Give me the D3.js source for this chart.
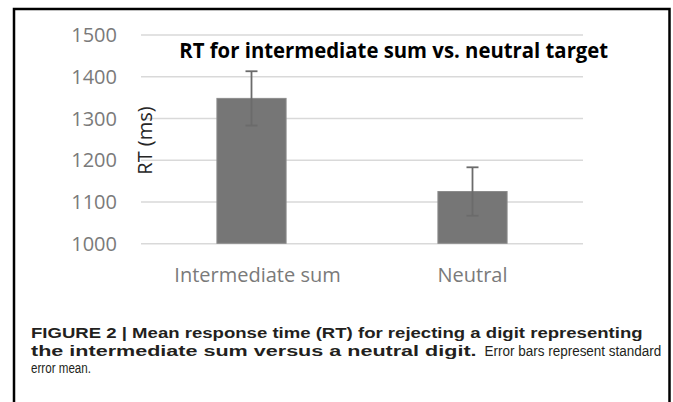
<!DOCTYPE html>
<html>
<head>
<meta charset="utf-8" />
<title>RT for intermediate sum vs. neutral target</title>
<style>
body { margin: 0; background: #fff; }
.tick text { font-family: "Open Sans", sans-serif; font-size: 20px; fill: #7a7a7a; }
.grid line { stroke: #d9d9d9; stroke-width: 1.5; }
.caption { font-family: "Liberation Sans", Arial, sans-serif; font-size: 15.5px; fill: #231f20; }
</style>
</head>
<body>
<div id="chart"></div>
<script src="https://d3js.org/d3.v7.min.js"></script>
<script>
(function(d3) {
	'use strict';

	// values
	var categories = ['Intermediate sum', 'Neutral'];
	var means = [1347, 1124];
	var stdErrors = [65, 58];
	var yTicks = [1000, 1100, 1200, 1300, 1400, 1500];

	var width = 673;
	var height = 402;

	var svg = d3.select('#chart').append('svg')
		.attr('width', width).attr('height', height);

	// outer frame (open at the bottom)
	svg.append('path')
		.attr('d', 'M14,' + height + 'V9H669.5V' + height)
		.attr('fill', 'none').attr('stroke', '#000').attr('stroke-width', 2.5);

	var x = d3.scaleBand().domain(categories).range([141, 583])
		.paddingInner(0.687).paddingOuter(0.3435);
	var y = d3.scaleLinear().domain([1000, 1500]).range([243.3, 34.5]);

	// gridlines + y labels
	var yAxis = svg.append('g').attr('class', 'grid')
		.attr('transform', 'translate(141,0)')
		.call(d3.axisLeft(y).tickValues(yTicks).tickSize(-442).tickPadding(24)
			.tickFormat(d3.format('d')));
	yAxis.select('.domain').remove();
	yAxis.selectAll('text').attr('dy', '0.36em');

	// bars
	svg.selectAll('rect.bar').data(means).enter().append('rect')
		.attr('class', 'bar')
		.attr('x', function(d, i) { return x(categories[i]); })
		.attr('width', x.bandwidth())
		.attr('y', function(d) { return y(d); })
		.attr('height', function(d) { return y(1000) - y(d); })
		.attr('fill', '#767676')
		.attr('stroke', '#8c8c8c').attr('stroke-width', 1);

	// error bars
	var err = svg.selectAll('g.err').data(means).enter().append('g')
		.attr('class', 'err')
		.attr('stroke', '#6b6b6b').attr('stroke-width', 1.8)
		.attr('transform', function(d, i) {
			return 'translate(' + (x(categories[i]) + x.bandwidth() / 2) + ',0)';
		});
	err.append('line')
		.attr('y1', function(d, i) { return y(d + stdErrors[i]); })
		.attr('y2', function(d, i) { return y(d - stdErrors[i]); });
	err.append('line').attr('x1', -6).attr('x2', 6)
		.attr('y1', function(d, i) { return y(d + stdErrors[i]); })
		.attr('y2', function(d, i) { return y(d + stdErrors[i]); });
	err.append('line').attr('x1', -6).attr('x2', 6)
		.attr('y1', function(d, i) { return y(d - stdErrors[i]); })
		.attr('y2', function(d, i) { return y(d - stdErrors[i]); });

	// category labels
	var xAxis = svg.append('g')
		.attr('transform', 'translate(0,243.3)')
		.call(d3.axisBottom(x).tickSize(0).tickPadding(25));
	xAxis.select('.domain').remove();
	xAxis.selectAll('text').attr('dx', function(d, i) { return i === 0 ? 6 : 0; });

	// squeeze/stretch a text to a given width with a transform
	function fitText(sel, x0, y0, len) {
		var natural = sel.node().getComputedTextLength();
		sel.attr('transform', 'translate(' + x0 + ',' + y0 + ') scale(' + (len / natural) + ',1)');
	}

	// chart title
	var title = svg.append('text')
		.style('font-family', '"Open Sans", sans-serif')
		.style('font-size', '21px').style('font-weight', 'bold').style('fill', '#000')
		.text('RT for intermediate sum vs. neutral target');
	fitText(title, 179.3, 58.3, 429);

	// y axis title
	svg.append('text')
		.attr('transform', 'translate(151.5,140.5) rotate(-90)')
		.attr('text-anchor', 'middle')
		.style('font-family', '"Open Sans", sans-serif')
		.style('font-size', '20px').style('fill', '#262626')
		.text('RT (ms)');

	// figure caption
	function captionLine(str, x0, y0, len, bold) {
		var t = svg.append('text').attr('class', 'caption')
			.style('font-weight', bold ? 'bold' : 'normal')
			.text(str);
		fitText(t, x0, y0, len);
	}
	captionLine('FIGURE 2 | Mean response time (RT) for rejecting a digit representing', 31, 338, 612, true);
	captionLine('the intermediate sum versus a neutral digit.', 31, 355.5, 446, true);
	captionLine('Error bars represent standard', 484.5, 355.5, 177, false);
	captionLine('error mean.', 31, 373, 60, false);

})(window.d3);
</script>
</body>
</html>
